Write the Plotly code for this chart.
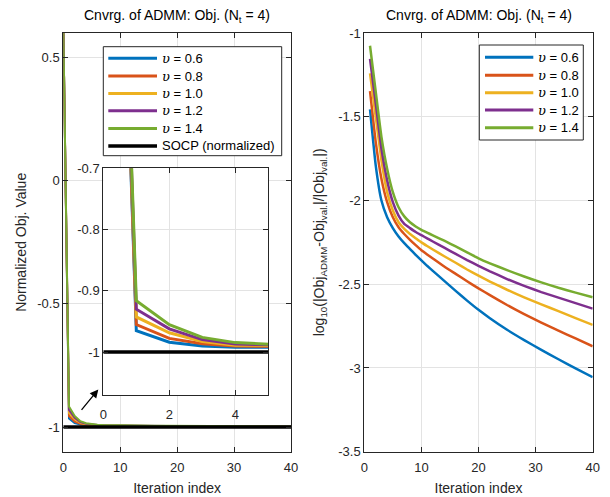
import plotly.graph_objects as go

# ---------------- data ----------------
iters = [1, 2, 3, 4, 5, 6, 7, 8, 9, 10, 11, 12, 14, 16, 18, 20, 22, 25, 28, 31, 34, 37, 40]

# log10(|Obj_ADMM - Obj_val|/|Obj_val|) per penalty value
err_06 = [-1.456, -1.79, -2.00, -2.10, -2.165, -2.215, -2.255, -2.29, -2.325, -2.358, -2.39, -2.42,
          -2.48, -2.54, -2.598, -2.653, -2.703, -2.772, -2.834, -2.892, -2.948, -3.002, -3.055]
err_08 = [-1.347, -1.65, -1.87, -2.01, -2.10, -2.16, -2.20, -2.235, -2.267, -2.297, -2.322, -2.346,
          -2.394, -2.438, -2.482, -2.525, -2.565, -2.624, -2.678, -2.729, -2.777, -2.824, -2.871]
err_10 = [-1.241, -1.50, -1.76, -1.95, -2.06, -2.13, -2.17, -2.20, -2.225, -2.250, -2.272, -2.293,
          -2.333, -2.372, -2.412, -2.449, -2.484, -2.533, -2.578, -2.620, -2.661, -2.702, -2.743]
err_12 = [-1.155, -1.42, -1.69, -1.88, -2.01, -2.09, -2.14, -2.165, -2.188, -2.207, -2.226, -2.245,
          -2.282, -2.319, -2.356, -2.390, -2.423, -2.469, -2.510, -2.547, -2.580, -2.613, -2.646]
err_14 = [-1.076, -1.35, -1.62, -1.81, -1.95, -2.04, -2.095, -2.13, -2.155, -2.175, -2.192, -2.208,
          -2.240, -2.274, -2.310, -2.345, -2.375, -2.416, -2.454, -2.489, -2.521, -2.550, -2.578]

upsilon = ["0.6", "0.8", "1.0", "1.2", "1.4"]
colors = ["#0072BD", "#D95319", "#EDB120", "#7E2F8E", "#77AC30"]

obj_init = 0.63      # normalized objective at iteration 0
socp_value = -1.0    # SOCP (normalized) objective
iter_max = 40

x_ticks = [0, 10, 20, 30, 40]
x_ticktext = ["0", "10", "20", "30", "40"]
yl_ticks = [-1, -0.5, 0, 0.5]
yl_ticktext = ["-1", "-0.5", "0", "0.5"]
yr_ticks = [-3.5, -3, -2.5, -2, -1.5, -1]
yr_ticktext = ["-3.5", "-3", "-2.5", "-2", "-1.5", "-1"]
xi_ticks = [0, 2, 4]
xi_ticktext = ["0", "2", "4"]
yi_ticks = [-1, -0.9, -0.8, -0.7]
yi_ticktext = ["-1", "-0.9", "-0.8", "-0.7"]

errs = [err_06, err_08, err_10, err_12, err_14]

# ---------------- figure ----------------
W, H = 610, 497
FONT = "Liberation Sans, Arial, Helvetica, sans-serif"
AX = "#262626"
GRID = "#e3e3e3"

def px_x(p):
    return p / W

def px_y(p):
    return 1 - p / H

fig = go.Figure()

def leg_name(u):
    return "<span style='font-family:DejaVu Serif'><i>υ</i></span> = " + u

x_left = [0] + iters
for e, u, c in zip(errs, upsilon, colors):
    y_left = [obj_init] + [socp_value + 10 ** v for v in e]
    fig.add_trace(go.Scatter(x=x_left, y=y_left, mode="lines", line=dict(color=c, width=2),
                             name=leg_name(u), xaxis="x", yaxis="y", showlegend=False))
fig.add_trace(go.Scatter(x=[0, iter_max], y=[socp_value, socp_value], mode="lines",
                         line=dict(color="black", width=3.5), name="SOCP (normalized)",
                         xaxis="x", yaxis="y", showlegend=False))

# inset
for e, u, c in zip(errs, upsilon, colors):
    y_left = [obj_init] + [socp_value + 10 ** v for v in e]
    fig.add_trace(go.Scatter(x=x_left, y=y_left, mode="lines", line=dict(color=c, width=3),
                             showlegend=False, xaxis="x3", yaxis="y3"))
fig.add_trace(go.Scatter(x=[0, iter_max], y=[socp_value, socp_value], mode="lines",
                         line=dict(color="black", width=3.5), showlegend=False,
                         xaxis="x3", yaxis="y3"))

# right panel
for e, u, c in zip(errs, upsilon, colors):
    fig.add_trace(go.Scatter(x=iters, y=e, mode="lines", line=dict(color=c, width=2.5, shape="spline", smoothing=0.4),
                             name=leg_name(u), xaxis="x2", yaxis="y2", showlegend=False))

ydom = [px_y(451.7), px_y(33)]

def axis_common(**kw):
    d = dict(showline=True, linecolor=AX, linewidth=1, mirror="ticks",
             ticks="inside", ticklen=5, tickcolor=AX, tickwidth=1,
             showgrid=True, gridcolor=GRID, gridwidth=1, zeroline=False,
             automargin=False,
             tickfont=dict(family=FONT, size=13, color=AX), tickmode="array")
    d.update(kw)
    return d

fig.update_layout(
    width=W, height=H,
    margin=dict(l=0, r=0, t=0, b=0, autoexpand=False),
    paper_bgcolor="white", plot_bgcolor="white",
    font=dict(family=FONT, size=13, color=AX),
    showlegend=False,
    xaxis=axis_common(domain=[px_x(63.3), px_x(291)], range=[0, 40], anchor="y",
                      tickvals=x_ticks, ticktext=x_ticktext, ticklabelstandoff=4,
                      title=dict(text="Iteration index", font=dict(size=14, color=AX), standoff=8)),
    yaxis=axis_common(domain=ydom, range=[-1.1, 0.6], anchor="x",
                      tickvals=yl_ticks, ticktext=yl_ticktext,
                      title=dict(text="Normalized Obj. Value", font=dict(size=14, color=AX), standoff=7)),
    xaxis2=axis_common(domain=[px_x(364.3), px_x(592.7)], range=[0, 40], anchor="y2",
                       tickvals=x_ticks, ticktext=x_ticktext, ticklabelstandoff=4,
                       title=dict(text="Iteration index", font=dict(size=14, color=AX), standoff=8)),
    yaxis2=axis_common(domain=ydom, range=[-3.5, -1], anchor="x2",
                       tickvals=yr_ticks, ticktext=yr_ticktext,
                       title=dict(text="log<sub>10</sub>(|Obj<sub>ADMM</sub>-Obj<sub>val.</sub>|/|Obj<sub>val.</sub>|)",
                                  font=dict(size=14, color=AX), standoff=10)),
    xaxis3=axis_common(domain=[px_x(103.3), px_x(268.3)], range=[0, 5], anchor="y3",
                       tickvals=xi_ticks, ticktext=xi_ticktext, ticklabelstandoff=7),
    yaxis3=axis_common(domain=[px_y(395), px_y(168.3)], range=[-1.07, -0.7], anchor="x3",
                       tickvals=yi_ticks, ticktext=yi_ticktext),
)

# ---------------- legends (boxes drawn as in the reference) ----------------
def add_legend(box, rows_y, x_line, x_text, entries):
    x0, y0, x1, y1 = box
    fig.add_shape(type="rect", xref="paper", yref="paper", layer="above",
                  x0=px_x(x0), x1=px_x(x1), y0=px_y(y1), y1=px_y(y0),
                  line=dict(color=AX, width=1), fillcolor="white")
    for (label, col, wdt), yy in zip(entries, rows_y):
        fig.add_shape(type="line", xref="paper", yref="paper", layer="above",
                      x0=px_x(x_line[0]), x1=px_x(x_line[1]), y0=px_y(yy), y1=px_y(yy),
                      line=dict(color=col, width=wdt))
        fig.add_annotation(text=label, xref="paper", yref="paper", x=px_x(x_text), y=px_y(yy),
                           xanchor="left", yanchor="middle", showarrow=False,
                           font=dict(family=FONT, size=13, color="black"))

left_entries = [(leg_name(u), c, 3) for u, c in zip(upsilon, colors)] + [("SOCP (normalized)", "black", 3.5)]
add_legend((103.3, 46.7, 281.7, 155.7), [58.3, 76, 93.4, 110.8, 128.5, 146],
           (108.3, 157), 160, left_entries)
right_entries = [(leg_name(u), c, 3) for u, c in zip(upsilon, colors)]
add_legend((479.3, 45, 583.3, 140), [57.3, 75.3, 92.7, 110, 127.7],
           (485, 533.3), 535.5, right_entries)

title_txt = "Cnvrg. of ADMM: Obj. (N<sub>t</sub> = 4)"
for cx in [(63.3 + 291) / 2, (364.3 + 592.7) / 2]:
    fig.add_annotation(text=title_txt, xref="paper", yref="paper", x=px_x(cx), y=px_y(16),
                       xanchor="center", yanchor="middle", showarrow=False,
                       font=dict(family=FONT, size=14, color="black"))

# arrow pointing at the zoomed region
fig.add_annotation(x=6.15, y=-0.847, xref="x", yref="y", ax=-18, ay=22, text="",
                   showarrow=True, arrowhead=2, arrowsize=1.3, arrowwidth=1.3,
                   arrowcolor="black")

fig.write_html("out.html", config={"displayModeBar": False},
               post_script="document.body.style.margin='0px';")
